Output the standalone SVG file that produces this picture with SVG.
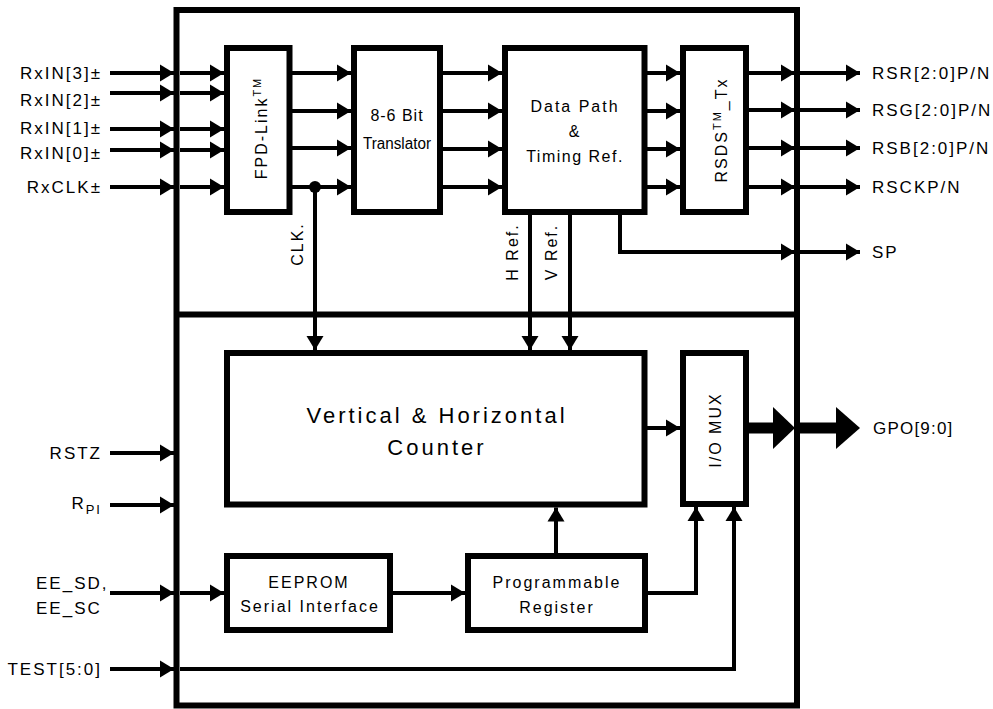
<svg xmlns="http://www.w3.org/2000/svg" width="993" height="709" viewBox="0 0 993 709">
<defs>
<marker id="ah" markerUnits="userSpaceOnUse" markerWidth="14" markerHeight="17" refX="14" refY="8.5" orient="auto" overflow="visible">
<path d="M0,0 L14,8.5 L0,17 Z" fill="#000"/>
</marker>
<style>
.box{fill:#fff;stroke:#000;stroke-width:6}
.ln{fill:none;stroke:#000;stroke-width:4;marker-end:url(#ah)}
.lb{font-family:"Liberation Sans",Arial,sans-serif;font-size:17px;letter-spacing:2px;fill:#000}
.bt{font-family:"Liberation Sans",Arial,sans-serif;font-size:16px;letter-spacing:2px;fill:#000;text-anchor:middle}
.big{font-family:"Liberation Sans",Arial,sans-serif;font-size:22px;letter-spacing:3px;fill:#000;text-anchor:middle}
</style>
</defs>
<rect width="993" height="709" fill="#fff"/>

<g id="chip">
<rect x="176.5" y="10" width="620.5" height="695.5" fill="none" stroke="#000" stroke-width="6"/>
<line x1="176.5" y1="314.5" x2="797" y2="314.5" stroke="#000" stroke-width="6"/>
</g>

<g id="connectors">
<line class="ln" x1="110" y1="73" x2="174" y2="73"/>
<line class="ln" x1="180" y1="73" x2="224" y2="73"/>
<line class="ln" x1="110" y1="93" x2="174" y2="93"/>
<line class="ln" x1="180" y1="93" x2="224" y2="93"/>
<line class="ln" x1="110" y1="129" x2="174" y2="129"/>
<line class="ln" x1="180" y1="129" x2="224" y2="129"/>
<line class="ln" x1="110" y1="150" x2="174" y2="150"/>
<line class="ln" x1="180" y1="150" x2="224" y2="150"/>
<line class="ln" x1="110" y1="187" x2="174" y2="187"/>
<line class="ln" x1="180" y1="187" x2="224" y2="187"/>
<line class="ln" x1="292" y1="73" x2="351" y2="73"/>
<line class="ln" x1="292" y1="111" x2="351" y2="111"/>
<line class="ln" x1="292" y1="148" x2="351" y2="148"/>
<line class="ln" x1="292" y1="187" x2="351" y2="187"/>
<circle cx="315" cy="187" r="6" fill="#000"/>
<line class="ln" x1="443" y1="73" x2="502" y2="73"/>
<line class="ln" x1="443" y1="111" x2="502" y2="111"/>
<line class="ln" x1="443" y1="149" x2="502" y2="149"/>
<line class="ln" x1="443" y1="187" x2="502" y2="187"/>
<line class="ln" x1="647" y1="73" x2="680" y2="73"/>
<line class="ln" x1="647" y1="111" x2="680" y2="111"/>
<line class="ln" x1="647" y1="149" x2="680" y2="149"/>
<line class="ln" x1="647" y1="187" x2="680" y2="187"/>
<line class="ln" x1="749" y1="73" x2="795" y2="73"/>
<line class="ln" x1="799" y1="73" x2="860" y2="73"/>
<line class="ln" x1="749" y1="110" x2="795" y2="110"/>
<line class="ln" x1="799" y1="110" x2="860" y2="110"/>
<line class="ln" x1="749" y1="148" x2="795" y2="148"/>
<line class="ln" x1="799" y1="148" x2="860" y2="148"/>
<line class="ln" x1="749" y1="187" x2="795" y2="187"/>
<line class="ln" x1="799" y1="187" x2="860" y2="187"/>
<path class="ln" d="M620,215 V252 H795"/>
<line class="ln" x1="799" y1="252" x2="860" y2="252"/>
<line class="ln" x1="315" y1="187" x2="315" y2="350"/>
<line class="ln" x1="530" y1="215" x2="530" y2="350"/>
<line class="ln" x1="570" y1="215" x2="570" y2="350"/>
<line class="ln" x1="647" y1="428" x2="680" y2="428"/>
<rect x="749" y="422.5" width="26" height="11" fill="#000"/>
<polygon points="773,407 795,428 773,449" fill="#000"/>
<rect x="799" y="422.5" width="39" height="11" fill="#000"/>
<polygon points="836,407 860,428 836,449" fill="#000"/>
<line class="ln" x1="110" y1="453" x2="174" y2="453"/>
<line class="ln" x1="110" y1="505" x2="174" y2="505"/>
<line class="ln" x1="110" y1="593" x2="174" y2="593"/>
<line class="ln" x1="180" y1="593" x2="224" y2="593"/>
<line class="ln" x1="393" y1="593" x2="465" y2="593"/>
<line class="ln" x1="556" y1="553" x2="556" y2="507.5"/>
<path class="ln" d="M648,593 H696 V507"/>
<line class="ln" x1="110" y1="669" x2="174" y2="669"/>
<path class="ln" d="M180,669 H734 V507"/>
</g>

<g id="fpd-link">
<rect class="box" x="227" y="48" width="62.5" height="164"/>
<text class="bt" transform="translate(267,128) rotate(-90)">FPD-Link<tspan font-size="11" baseline-shift="super">TM</tspan></text>
</g>

<g id="translator">
<rect class="box" x="354" y="48" width="86" height="164"/>
<text class="bt" x="397" y="121" style="letter-spacing:1px">8-6 Bit</text>
<text class="bt" x="397" y="149" style="letter-spacing:0" textLength="68" lengthAdjust="spacingAndGlyphs">Translator</text>
</g>

<g id="data-path">
<rect class="box" x="505" y="48" width="139.5" height="164"/>
<text class="bt" x="575" y="112">Data Path</text>
<text class="bt" x="575" y="137">&amp;</text>
<text class="bt" x="575" y="162" style="letter-spacing:1.5px">Timing Ref.</text>
</g>

<g id="rsds-tx">
<rect class="box" x="683" y="48" width="63" height="164"/>
<text class="bt" transform="translate(727,130) rotate(-90)">RSDS<tspan font-size="11" baseline-shift="super">TM</tspan>_Tx</text>
</g>

<g id="counter">
<rect class="box" x="227" y="353" width="417.5" height="151.5"/>
<text class="big" x="437" y="423">Vertical &amp; Horizontal</text>
<text class="big" x="437" y="455">Counter</text>
</g>

<g id="io-mux">
<rect class="box" x="683" y="353" width="63" height="151"/>
<text class="bt" transform="translate(721,430) rotate(-90)">I/O MUX</text>
</g>

<g id="eeprom">
<rect class="box" x="227" y="556" width="163" height="74"/>
<text class="bt" x="309" y="588">EEPROM</text>
<text class="bt" x="310" y="612">Serial Interface</text>
</g>

<g id="prog-reg">
<rect class="box" x="468" y="556" width="177" height="74"/>
<text class="bt" x="557" y="588">Programmable</text>
<text class="bt" x="557" y="613">Register</text>
</g>

<g id="labels">
<text class="lb" text-anchor="end" x="102" y="79">RxIN[3]±</text>
<text class="lb" text-anchor="end" x="102" y="106">RxIN[2]±</text>
<text class="lb" text-anchor="end" x="102" y="134">RxIN[1]±</text>
<text class="lb" text-anchor="end" x="102" y="159">RxIN[0]±</text>
<text class="lb" text-anchor="end" x="102" y="193">RxCLK±</text>
<text class="lb" text-anchor="end" x="102" y="459">RSTZ</text>
<text class="lb" text-anchor="end" x="102" y="509">R<tspan font-size="13" dy="5">PI</tspan></text>
<text class="lb" x="36" y="589">EE_SD,</text>
<text class="lb" x="36" y="614">EE_SC</text>
<text class="lb" text-anchor="end" x="102" y="675">TEST[5:0]</text>
<text class="bt" transform="translate(303,244) rotate(-90)">CLK.</text>
<text class="bt" transform="translate(518,252) rotate(-90)">H Ref.</text>
<text class="bt" transform="translate(557,252) rotate(-90)">V Ref.</text>
<text class="lb" x="872" y="79">RSR[2:0]P/N</text>
<text class="lb" x="872" y="116">RSG[2:0]P/N</text>
<text class="lb" x="872" y="154">RSB[2:0]P/N</text>
<text class="lb" x="872" y="193">RSCKP/N</text>
<text class="lb" x="872" y="258">SP</text>
<text class="lb" x="873" y="434" style="letter-spacing:1.2px">GPO[9:0]</text>
</g>
</svg>
